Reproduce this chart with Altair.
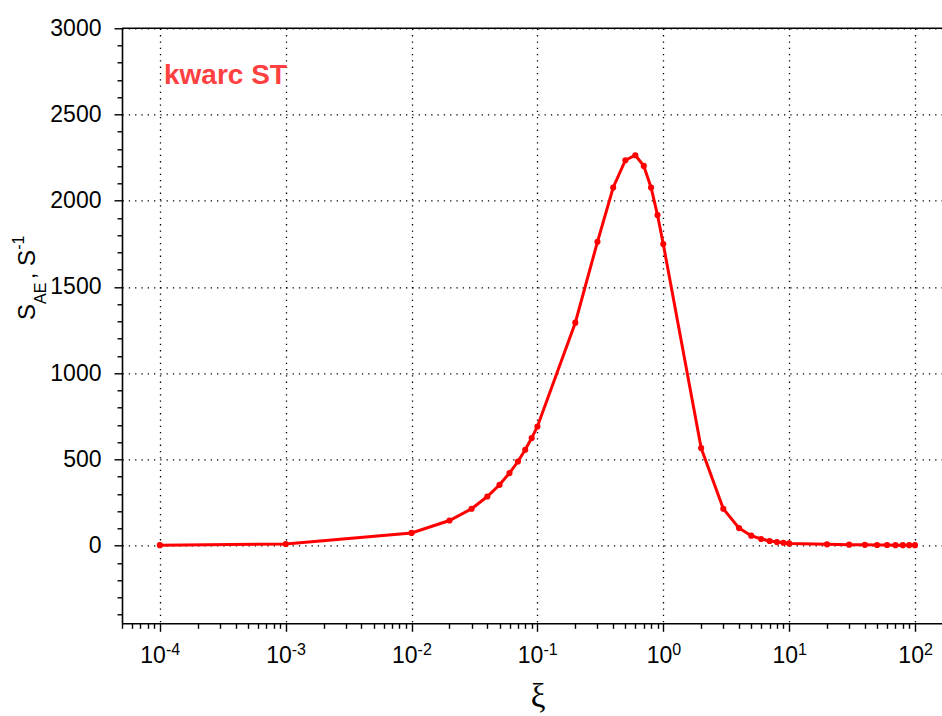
import altair as alt
import pandas as pd

# Rate spectrum S_AE versus xi (log axis)
xi = [1e-4, 1e-3, 1e-2, 0.02, 0.03, 0.04, 0.05, 0.06, 0.07, 0.08, 0.09, 0.1,
      0.2, 0.3, 0.4, 0.5, 0.6, 0.7, 0.8, 0.9, 1, 2, 3, 4, 5, 6, 7, 8, 9, 10,
      20, 30, 40, 50, 60, 70, 80, 90, 100]
s_ae = [3, 10, 74, 146, 214, 285, 353, 421, 488, 556, 624, 691,
        1293, 1762, 2077, 2235, 2264, 2202, 2077, 1917, 1749, 566, 214, 102, 58, 39, 27, 21, 17, 13,
        8, 6, 5, 4, 4, 3, 3, 3, 3]

series_label = "kwarc ST"

decade_exps = [-4, -3, -2, -1, 0, 1, 2]
major_x = [1e-4, 1e-3, 1e-2, 0.1, 1, 10, 100]
x_domain = [5e-5, 164]
minor_x = [m * d for d in [1e-5, 1e-4, 1e-3, 1e-2, 0.1, 1, 10]
           for m in range(2, 10) if x_domain[0] <= m * d <= x_domain[1]]

y_domain = [-450, 3000]
y_ticks = list(range(-400, 3001, 100))

W, H = 820, 595
RED = "#ff0000"
FONT = "Liberation Sans"

df = pd.DataFrame({"xi": xi, "s": s_ae})
x_scale = alt.Scale(type="log", domain=x_domain)
y_scale = alt.Scale(domain=y_domain, nice=False, zero=False)

major_test_x = "indexof([" + ",".join(repr(v) for v in major_x) + "], datum.value) >= 0"
major_test_y = "datum.value % 500 == 0"

x_axis = alt.Axis(
    values=major_x + minor_x, labels=False, title=None,
    tickSize={"condition": {"test": major_test_x, "value": 8}, "value": 5},
    tickColor="black", tickWidth=1.4,
    domainColor="black", domainWidth=1.6,
    grid=True, gridColor="black", gridWidth=1.3, gridDash=[1.3, 5],
    gridOpacity={"condition": {"test": major_test_x, "value": 1}, "value": 0},
)
y_axis = alt.Axis(
    values=y_ticks, title=None, format="d",
    labelExpr="datum.value % 500 == 0 ? datum.label : ''",
    labelFont=FONT, labelFontSize=23, labelColor="black", labelPadding=13,
    tickSize={"condition": {"test": major_test_y, "value": 8}, "value": 5},
    tickColor="black", tickWidth=1.4,
    domainColor="black", domainWidth=1.6,
    grid=True, gridColor="black", gridWidth=1.3, gridDash=[1.3, 5],
    gridOpacity={"condition": {"test": major_test_y, "value": 1}, "value": 0},
)

base = alt.Chart(df).encode(
    x=alt.X("xi:Q", scale=x_scale, axis=x_axis),
    y=alt.Y("s:Q", scale=y_scale, axis=y_axis),
)
curve = base.mark_line(color=RED, strokeWidth=3, clip=False)
dots = base.mark_circle(color=RED, size=38, opacity=1)

# frame line along the top of the plot
top_rule = alt.Chart(alt.Data(values=[{}])).mark_rule(color="black", strokeWidth=1.4).encode(
    x=alt.value(0), x2=alt.value(W), y=alt.value(0)
)

# decade tick labels: "10" with a raised exponent
labels_df = pd.DataFrame({"tick": major_x, "e": decade_exps, "exp": [str(e) for e in decade_exps]})
lab_x = alt.X("tick:Q", scale=x_scale, axis=x_axis)


def decade_labels(test, shift):
    src = alt.Chart(labels_df).transform_filter(test)
    base10 = src.mark_text(text="10", align="right", baseline="alphabetic",
                           font=FONT, fontSize=23, color="black", dx=shift).encode(
        x=lab_x, y=alt.value(H + 40))
    sup = src.mark_text(align="left", baseline="alphabetic",
                        font=FONT, fontSize=16, color="black", dx=shift).encode(
        x=lab_x, y=alt.value(H + 32), text="exp:N")
    return base10 + sup


neg_labels = decade_labels("datum.e < 0", 6)
pos_labels = decade_labels("datum.e >= 0", 9)


def note(text, x, y, size, **kw):
    return alt.Chart(alt.Data(values=[{}])).mark_text(
        text=text, font=kw.pop("font", FONT), fontSize=size, color=kw.pop("color", "black"),
        align=kw.pop("align", "left"), baseline="alphabetic", **kw
    ).encode(x=alt.value(x), y=alt.value(y))


# y-axis title: S_AE, S^-1 built from pieces
y_title = (
    note("S", -87, 291.7, 24, angle=270)
    + note("AE", -76, 275.7, 16, angle=270)
    + note(", S", -87, 251, 24, angle=270)
    + note("-1", -98, 221.5, 16, angle=270)
)
x_title = note("ξ", 416, H + 84, 33, font="Liberation Serif", align="center")
legend_text = note(series_label, 42, 55.2, 28, fontWeight="bold", color="#ff4040")

chart = alt.layer(
    curve, dots, top_rule, neg_labels, pos_labels, y_title, x_title, legend_text
).properties(
    width=W, height=H,
    autosize=alt.AutoSizeParams(type="none"),
    padding={"left": 122, "top": 28.3, "right": 0, "bottom": 716 - 28.3 - H},
    background="white",
).configure_view(stroke=None)

chart.save("out.html", embed_options={"renderer": "svg", "actions": False})
